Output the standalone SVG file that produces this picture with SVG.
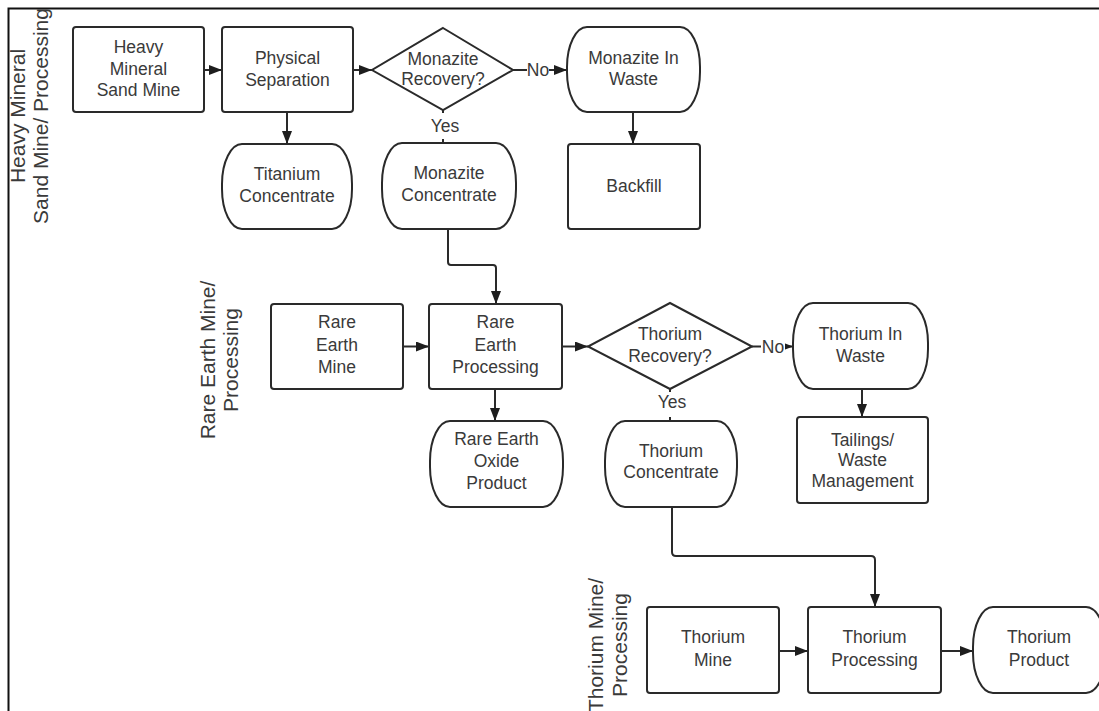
<svg xmlns="http://www.w3.org/2000/svg" width="1099" height="711" viewBox="0 0 1099 711">
  <defs>
    <marker id="arrow" viewBox="0 0 13 10" refX="13" refY="5" markerWidth="13" markerHeight="10" markerUnits="userSpaceOnUse" orient="auto">
      <path d="M0,0 L13,5 L0,10 z" fill="#1e1e1e"/>
    </marker>
    <style>
      .box { fill: #ffffff; stroke: #2a2a2a; stroke-width: 2; }
      .term { fill: #ffffff; stroke: #2a2a2a; stroke-width: 2; }
      .dia { fill: #ffffff; stroke: #2a2a2a; stroke-width: 2; }
      .edge { fill: none; stroke: #2a2a2a; stroke-width: 2; stroke-linejoin: round; }
      .arr { marker-end: url(#arrow); }
      .t { font-family: "Liberation Sans", Arial, sans-serif; font-size: 17.5px; fill: #3a3a3a; text-anchor: middle; }
      .lane { font-family: "Liberation Sans", Arial, sans-serif; font-size: 21px; fill: #3a3a3a; text-anchor: middle; }
      .frame { fill: none; stroke: #111111; stroke-width: 2; }
      .lbl { fill: #ffffff; }
    </style>
  </defs>

  <rect width="1099" height="711" fill="#ffffff"/>

  <!-- frame: top and left rules -->
  <path class="frame" d="M1099,8.5 H8.5 V711"/>

  <!-- swimlane titles -->
  <g id="lane-heavy-mineral">
    <text class="lane" transform="translate(25,116) rotate(-90)">Heavy Mineral</text>
    <text class="lane" transform="translate(48,116) rotate(-90)">Sand Mine/ Processing</text>
  </g>
  <g id="lane-rare-earth">
    <text class="lane" transform="translate(215,360) rotate(-90)">Rare Earth Mine/</text>
    <text class="lane" transform="translate(238,360) rotate(-90)">Processing</text>
  </g>
  <g id="lane-thorium">
    <text class="lane" transform="translate(603,645) rotate(-90)">Thorium Mine/</text>
    <text class="lane" transform="translate(627,645) rotate(-90)">Processing</text>
  </g>

  <!-- connectors -->
  <g id="connectors">
    <path class="edge arr" d="M204,70 H222"/>
    <path class="edge arr" d="M353,70 H372"/>
    <path class="edge arr" d="M287,112 V144"/>
    <path class="edge arr" d="M513,70 H567"/>
    <path class="edge" d="M443,110 V143"/>
    <path class="edge arr" d="M633,112 V144"/>
    <path class="edge arr" d="M448,229 V262 Q448,265 451,265 H493 Q496,265 496,268 V304"/>

    <path class="edge arr" d="M403,346.5 H429"/>
    <path class="edge arr" d="M562,346.5 H588"/>
    <path class="edge arr" d="M495,389 V421"/>
    <path class="edge arr" d="M752,346.5 H793"/>
    <path class="edge" d="M670,389 V421"/>
    <path class="edge arr" d="M862,389 V417"/>
    <path class="edge arr" d="M672,507 V552 Q672,556 676,556 H871 Q875,556 875,560 V607"/>

    <path class="edge arr" d="M779,651 H808"/>
    <path class="edge arr" d="M941,651 H973"/>

    <!-- branch labels -->
    <rect class="lbl" x="527" y="60" width="22" height="20"/>
    <text class="t" x="538" y="76">No</text>
    <rect class="lbl" x="428" y="113" width="32" height="26"/>
    <text class="t" x="445" y="132">Yes</text>
    <rect class="lbl" x="761" y="337" width="24" height="20"/>
    <text class="t" x="773" y="353">No</text>
    <rect class="lbl" x="656" y="392" width="32" height="25"/>
    <text class="t" x="672" y="408">Yes</text>
  </g>

  <!-- heavy mineral sand lane -->
  <g id="heavy-mineral-sand-mine">
    <rect class="box" x="73" y="27" width="131" height="85" rx="3"/>
    <text class="t" x="138.5" y="53">Heavy</text>
    <text class="t" x="138.5" y="74.5">Mineral</text>
    <text class="t" x="138.5" y="96">Sand Mine</text>
  </g>
  <g id="physical-separation">
    <rect class="box" x="222" y="27" width="131" height="85" rx="3"/>
    <text class="t" x="287.5" y="64">Physical</text>
    <text class="t" x="287.5" y="85.5">Separation</text>
  </g>
  <g id="monazite-recovery">
    <polygon class="dia" points="443,28 513,70 443,110 372,70"/>
    <text class="t" x="443" y="64.5">Monazite</text>
    <text class="t" x="443" y="85">Recovery?</text>
  </g>
  <g id="monazite-in-waste">
    <rect class="term" x="567" y="27" width="133" height="85" rx="20" ry="40"/>
    <text class="t" x="633.5" y="63.5">Monazite In</text>
    <text class="t" x="633.5" y="85">Waste</text>
  </g>
  <g id="titanium-concentrate">
    <rect class="term" x="222" y="144" width="130" height="85" rx="20" ry="40"/>
    <text class="t" x="287" y="180">Titanium</text>
    <text class="t" x="287" y="201.5">Concentrate</text>
  </g>
  <g id="monazite-concentrate">
    <rect class="term" x="382" y="143" width="134" height="86" rx="20" ry="40"/>
    <text class="t" x="449" y="179">Monazite</text>
    <text class="t" x="449" y="200.5">Concentrate</text>
  </g>
  <g id="backfill">
    <rect class="box" x="568" y="144" width="132" height="85" rx="3"/>
    <text class="t" x="634" y="192">Backfill</text>
  </g>

  <!-- rare earth lane -->
  <g id="rare-earth-mine">
    <rect class="box" x="271" y="304" width="132" height="85" rx="3"/>
    <text class="t" x="337" y="328">Rare</text>
    <text class="t" x="337" y="350.5">Earth</text>
    <text class="t" x="337" y="372.5">Mine</text>
  </g>
  <g id="rare-earth-processing">
    <rect class="box" x="429" y="304" width="133" height="85" rx="3"/>
    <text class="t" x="495.5" y="328">Rare</text>
    <text class="t" x="495.5" y="350.5">Earth</text>
    <text class="t" x="495.5" y="372.5">Processing</text>
  </g>
  <g id="thorium-recovery">
    <polygon class="dia" points="670,303 752,346.5 670,389 588,346.5"/>
    <text class="t" x="670" y="340">Thorium</text>
    <text class="t" x="670" y="361.5">Recovery?</text>
  </g>
  <g id="thorium-in-waste">
    <rect class="term" x="793" y="303" width="135" height="86" rx="20" ry="40"/>
    <text class="t" x="860.5" y="340">Thorium In</text>
    <text class="t" x="860.5" y="361.5">Waste</text>
  </g>
  <g id="rare-earth-oxide-product">
    <rect class="term" x="430" y="421" width="133" height="86" rx="20" ry="40"/>
    <text class="t" x="496.5" y="445">Rare Earth</text>
    <text class="t" x="496.5" y="467">Oxide</text>
    <text class="t" x="496.5" y="489">Product</text>
  </g>
  <g id="thorium-concentrate">
    <rect class="term" x="605" y="421" width="132" height="86" rx="20" ry="40"/>
    <text class="t" x="671" y="456.5">Thorium</text>
    <text class="t" x="671" y="478">Concentrate</text>
  </g>
  <g id="tailings-waste-management">
    <rect class="box" x="797" y="417" width="131" height="86" rx="3"/>
    <text class="t" x="862.5" y="446">Tailings/</text>
    <text class="t" x="862.5" y="466">Waste</text>
    <text class="t" x="862.5" y="487">Management</text>
  </g>

  <!-- thorium lane -->
  <g id="thorium-mine">
    <rect class="box" x="647" y="607" width="132" height="86" rx="3"/>
    <text class="t" x="713" y="643">Thorium</text>
    <text class="t" x="713" y="665.5">Mine</text>
  </g>
  <g id="thorium-processing">
    <rect class="box" x="808" y="607" width="133" height="86" rx="3"/>
    <text class="t" x="874.5" y="643">Thorium</text>
    <text class="t" x="874.5" y="665.5">Processing</text>
  </g>
  <g id="thorium-product">
    <rect class="term" x="973" y="607" width="133" height="86" rx="20" ry="40"/>
    <text class="t" x="1039" y="643">Thorium</text>
    <text class="t" x="1039" y="665.5">Product</text>
  </g>
</svg>
